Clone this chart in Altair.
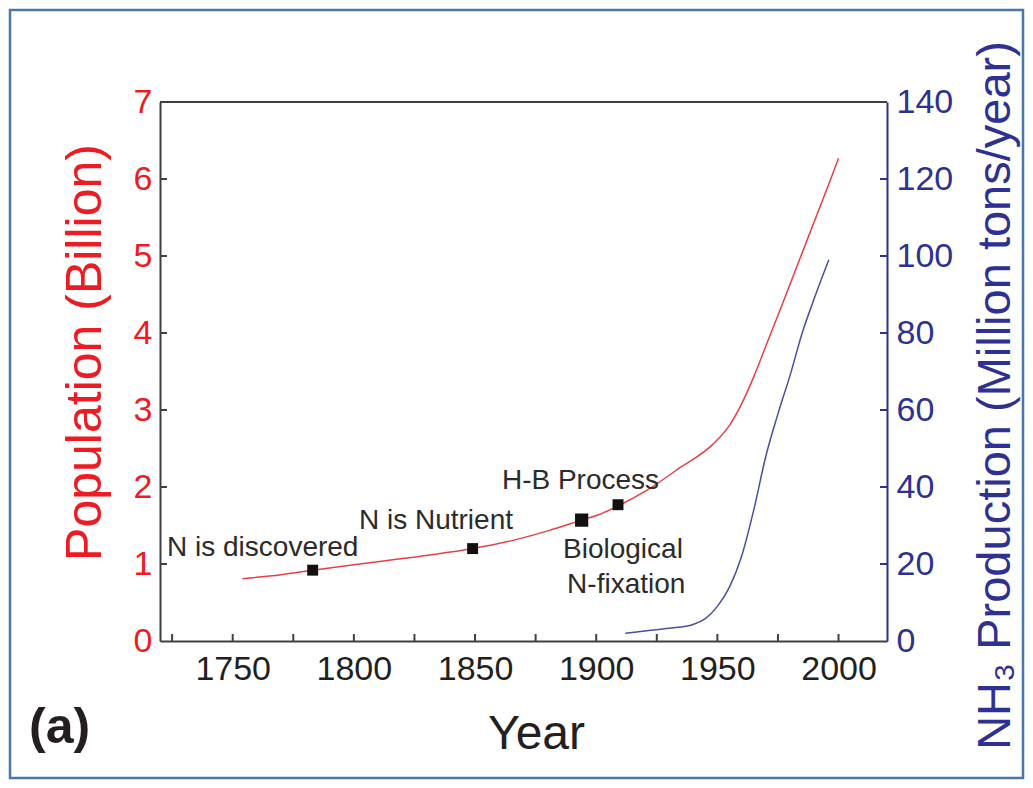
import altair as alt
import pandas as pd

# ---- data ----
pop_years = [1754, 1770, 1783, 1800, 1820, 1849, 1866, 1880, 1894, 1901, 1910, 1921, 1935, 1948, 1955, 1960, 1965, 1970, 1977, 1984, 1991, 1998, 2000]
pop_values = [0.81, 0.86, 0.92, 0.99, 1.07, 1.20, 1.31, 1.43, 1.57, 1.64, 1.77, 1.96, 2.26, 2.55, 2.80, 3.08, 3.43, 3.83, 4.39, 4.96, 5.53, 6.10, 6.27]

nh3_years = [1912, 1920, 1930, 1940, 1945, 1950, 1955, 1960, 1965, 1970, 1975, 1980, 1985, 1990, 1996]
nh3_values = [2.0, 2.6, 3.3, 4.3, 5.8, 9.0, 14.0, 22.0, 34.0, 48.0, 59.0, 69.0, 80.0, 89.0, 99.0]

marker_years = [1783, 1849, 1894, 1909]
marker_values = [0.92, 1.20, 1.57, 1.77]

ann_labels = ["N is discovered", "N is Nutrient", "H-B Process", "Biological", "N-fixation"]
ann_years = [1722.9, 1802.1, 1861.1, 1886.3, 1888.0]
ann_values = [1.10, 1.455, 1.974, 1.078, 0.623]

x_label_years = [1750, 1800, 1850, 1900, 1950, 2000]
x_tick_years = [1725, 1750, 1775, 1800, 1825, 1850, 1875, 1900, 1925, 1950, 1975, 2000]
left_labels = [0, 1, 2, 3, 4, 5, 6, 7]
left_ticks = [1, 2, 3, 4, 5, 6]
right_labels = [0, 20, 40, 60, 80, 100, 120, 140]
right_ticks = [20, 40, 60, 80, 100, 120]

# ---- style ----
W, H = 727, 539
FONT = "Liberation Sans"
RED = "#ec1c24"
NAVY = "#2e3192"
DARK = "#404040"
TXT = "#231f20"

pop_df = pd.DataFrame({"year": pop_years, "pop": pop_values})
nh3_df = pd.DataFrame({"year": nh3_years, "nh3": nh3_values})
mk_df = pd.DataFrame({"year": marker_years, "pop": marker_values})
ann_df = pd.DataFrame({"year": ann_years, "pop": ann_values, "label": ann_labels})
one = pd.DataFrame({"a": [0]})

x_scale = alt.Scale(domain=[1720, 2020], nice=False, zero=False)
y_left = alt.Scale(domain=[0, 7], nice=False, zero=False)
y_right = alt.Scale(domain=[0, 140], nice=False, zero=False)

x_axis = alt.Axis(values=x_label_years, format="d", ticks=False, grid=False,
                  domainColor=DARK, domainWidth=2, labelFontSize=34, labelColor=TXT,
                  labelPadding=11, labelFont=FONT,
                  title="Year", titleFontSize=48, titleColor=TXT, titleFontWeight="normal",
                  titleFont=FONT, titleX=376, titleY=107, titleBaseline="alphabetic",
                  titleAlign="center")
y_axis_left = alt.Axis(values=left_labels, format="d", ticks=False, grid=False,
                       domainColor=DARK, domainWidth=2, labelFontSize=34, labelColor=RED,
                       labelPadding=8, labelFont=FONT,
                       title="Population (Billion)", titleFontSize=50, titleColor=RED,
                       titleFontWeight="normal", titleFont=FONT, titleX=-60, titleY=250,
                       titleAngle=270, titleBaseline="alphabetic", titleAlign="center")
y_axis_right = alt.Axis(orient="right", values=right_labels, format="d", ticks=False, grid=False,
                        domainColor=NAVY, domainWidth=2, labelFontSize=34, labelColor=NAVY,
                        labelPadding=9, labelFont=FONT,
                        title="NH₃ Production (Million tons/year)", titleFontSize=47,
                        titleColor=NAVY, titleFontWeight="normal", titleFont=FONT,
                        titleX=122, titleY=293, titleAngle=270,
                        titleBaseline="alphabetic", titleAlign="center")

pop_line = alt.Chart(pop_df).mark_line(color="#e5404a", strokeWidth=1.5, interpolate="monotone").encode(
    x=alt.X("year:Q", scale=x_scale, axis=x_axis),
    y=alt.Y("pop:Q", scale=y_left, axis=y_axis_left),
)

squares = alt.Chart(mk_df).mark_square(color="#111111", opacity=1).encode(
    x=alt.X("year:Q", scale=x_scale),
    y=alt.Y("pop:Q", scale=y_left),
    size=alt.condition(alt.datum.year == 1894, alt.value(175), alt.value(120)),
)

texts = alt.Chart(ann_df).mark_text(align="left", baseline="alphabetic", fontSize=28,
                                    font=FONT, color="#2b2b2b").encode(
    x=alt.X("year:Q", scale=x_scale),
    y=alt.Y("pop:Q", scale=y_left),
    text="label:N",
)

xticks = alt.Chart(pd.DataFrame({"year": x_tick_years})).mark_rule(color=DARK, strokeWidth=2).encode(
    x=alt.X("year:Q", scale=x_scale), y=alt.value(H), y2=alt.value(H - 7)
)
lticks = alt.Chart(pd.DataFrame({"pop": left_ticks})).mark_rule(color=DARK, strokeWidth=2).encode(
    y=alt.Y("pop:Q", scale=y_left), x=alt.value(0), x2=alt.value(7)
)
topline = alt.Chart(one).mark_rule(color=DARK, strokeWidth=2).encode(
    x=alt.value(0), x2=alt.value(W), y=alt.value(0)
)
border = alt.Chart(one).mark_rect(fillOpacity=0, stroke="#4a76a8", strokeWidth=2.5).encode(
    x=alt.value(-150), x2=alt.value(863), y=alt.value(-92), y2=alt.value(676)
)
panel = alt.Chart(one).mark_text(text="(a)", fontSize=50, fontWeight="bold", align="left",
                                 baseline="alphabetic", font=FONT, color=TXT).encode(
    x=alt.value(-131), y=alt.value(641)
)

left = alt.layer(pop_line, squares, texts, xticks, lticks, topline, border, panel)

nh3_line = alt.Chart(nh3_df).mark_line(color="#4b4f9e", strokeWidth=1.5, interpolate="monotone").encode(
    x=alt.X("year:Q", scale=x_scale),
    y=alt.Y("nh3:Q", scale=y_right, axis=y_axis_right),
)
rticks = alt.Chart(pd.DataFrame({"nh3": right_ticks})).mark_rule(color=NAVY, strokeWidth=2).encode(
    y=alt.Y("nh3:Q", scale=y_right), x=alt.value(W), x2=alt.value(W - 7)
)
right = alt.layer(nh3_line, rticks)

chart = alt.layer(left, right).resolve_scale(y="independent").properties(
    width=W, height=H,
    padding={"left": 152, "top": 94, "right": 138, "bottom": 139},
    autosize=alt.AutoSizeParams(type="none"),
).configure_view(strokeWidth=0).configure(font=FONT)

chart.save("out.html", embed_options={"renderer": "svg", "actions": False})
